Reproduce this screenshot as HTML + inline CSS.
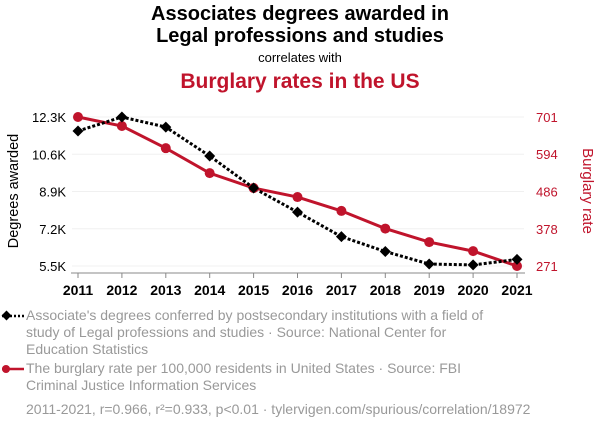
<!DOCTYPE html>
<html><head><meta charset="utf-8"><style>
body{margin:0;background:#fff;font-family:"Liberation Sans",sans-serif}
svg text{font-family:"Liberation Sans",sans-serif}
</style></head><body>
<svg width="600" height="430" viewBox="0 0 600 430">
<text x="300" y="20" text-anchor="middle" font-size="20" font-weight="bold" fill="#000">Associates degrees awarded in</text>
<text x="300" y="42" text-anchor="middle" font-size="20" font-weight="bold" fill="#000">Legal professions and studies</text>
<text x="300" y="62" text-anchor="middle" font-size="13" fill="#000">correlates with</text>
<text x="300" y="88" text-anchor="middle" font-size="21" font-weight="bold" fill="#c0142c">Burglary rates in the US</text>
<g id="grid"></g>
<g id="axes"></g>
<g id="series"></g>
<text transform="translate(18,191) rotate(-90)" text-anchor="middle" font-size="14.5" fill="#000">Degrees awarded</text>
<text transform="translate(583,191) rotate(90)" text-anchor="middle" font-size="15" fill="#c0142c">Burglary rate</text>
<g>
<line x1="2" y1="316" x2="24" y2="316" stroke="#000" stroke-width="2.5" stroke-dasharray="2,2"/>
<rect x="3" y="312" width="7" height="7" transform="rotate(45 6.5 315.5)" fill="#000"/>
<text font-size="14" fill="#999"><tspan x="26" y="320">Associate's degrees conferred by postsecondary institutions with a field of</tspan><tspan x="26" y="337">study of Legal professions and studies · Source: National Center for</tspan><tspan x="26" y="354">Education Statistics</tspan></text>
</g>
<g>
<line x1="2" y1="369" x2="24" y2="369" stroke="#c0142c" stroke-width="2.5"/>
<circle cx="6" cy="369" r="4" fill="#c0142c"/>
<text font-size="14" fill="#999"><tspan x="26" y="373">The burglary rate per 100,000 residents in United States · Source: FBI</tspan><tspan x="26" y="390">Criminal Justice Information Services</tspan></text>
</g>
<text x="26" y="414" font-size="14" fill="#999">2011-2021, r=0.966, r²=0.933, p&lt;0.01 · tylervigen.com/spurious/correlation/18972</text>
</svg>
<script>
const years=[2011,2012,2013,2014,2015,2016,2017,2018,2019,2020,2021];
const degrees=[11.66,12.3,11.84,10.52,9.06,7.96,6.84,6.16,5.59,5.55,5.8];
const burglary=[701,675,611,539,496,470,430,379,340,314,271];
const leftTicks=[5.5,7.2,8.9,10.6,12.3];
const leftTickLabels=["5.5K","7.2K","8.9K","10.6K","12.3K"];
const rightTicks=[271,378,486,594,701];
const NS="http://www.w3.org/2000/svg";
const x=y=>78+(y-2011)*43.9;
const yl=v=>266-(v-5.5)/(12.3-5.5)*149;
const yr=v=>266-(v-271)/(701-271)*149;
function mk(tag,attrs,parent){const e=document.createElementNS(NS,tag);for(const k in attrs)e.setAttribute(k,attrs[k]);document.getElementById(parent).appendChild(e);return e;}
leftTicks.forEach((t,i)=>{
 const g=mk('line',{x1:72,x2:524,y1:yl(t),y2:yl(t),stroke:'#f0f0f0','stroke-width':1},'grid');
 
 
 const l=mk('text',{x:66,y:yl(t)+5,'text-anchor':'end','font-size':13,fill:'#000'},'axes');
 l.textContent=leftTickLabels[i];
 
 
});
rightTicks.forEach(t=>{
 const l=mk('text',{x:536,y:yr(t)+5,'font-size':13,fill:'#c0142c'},'axes');
 l.textContent=String(t);
 
 
});
const ax=mk('line',{x1:71,x2:525,y1:273,y2:273,stroke:'#888','stroke-width':1},'axes');


years.forEach(yv=>{
 const t=mk('line',{x1:x(yv),x2:x(yv),y1:273,y2:278,stroke:'#888'},'axes');
 
 
 const l=mk('text',{x:x(yv),y:295,'text-anchor':'middle','font-size':14,'font-weight':'bold',fill:'#000'},'axes');
 l.textContent=String(yv);
 
 
});
const bl=mk('polyline',{points:years.map((yv,i)=>x(yv)+','+yr(burglary[i])).join(' '),fill:'none',stroke:'#c0142c','stroke-width':3},'series');


const dl=mk('polyline',{points:years.map((yv,i)=>x(yv)+','+yl(degrees[i])).join(' '),fill:'none',stroke:'#000','stroke-width':3,'stroke-dasharray':'3,2'},'series');


years.forEach((yv,i)=>{
 const c=mk('circle',{cx:x(yv),cy:yr(burglary[i]),r:5,fill:'#c0142c'},'series');
 
 
 const cx=x(yv),cy=yl(degrees[i]);
 const d=mk('polygon',{points:`${cx},${cy-5.5} ${cx+5.5},${cy} ${cx},${cy+5.5} ${cx-5.5},${cy}`,fill:'#000'},'series');
 
 
});
</script>
</body></html>
